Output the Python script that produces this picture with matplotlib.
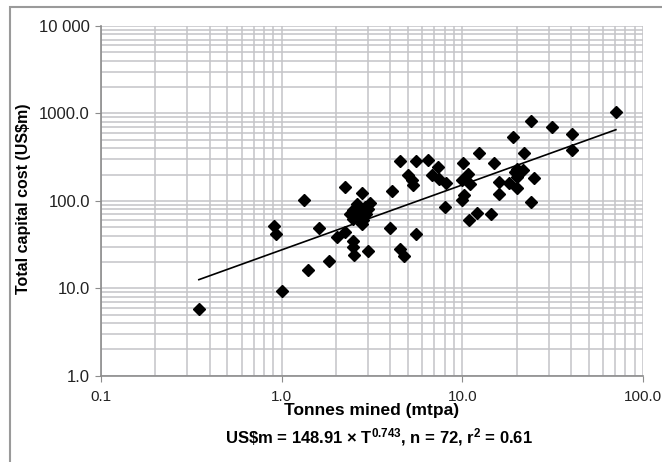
import numpy as np
import matplotlib
matplotlib.use('Agg')
import matplotlib.pyplot as plt
from matplotlib.patches import Rectangle

# 字体：窄体不可用时退回 Liberation Sans
plt.rcParams['font.family'] = ['Liberation Sans Narrow', 'Liberation Sans', 'DejaVu Sans']
plt.rcParams['mathtext.fontset'] = 'custom'
plt.rcParams['mathtext.rm'] = 'Liberation Sans:bold'
plt.rcParams['mathtext.bf'] = 'Liberation Sans:bold'
plt.rcParams['mathtext.it'] = 'Liberation Sans:bold'

# 数据：年产量 (mtpa) 与 总资本成本 (US$m)
tonnes_mined = [
    0.348, 0.912, 0.926, 1.00, 1.33, 1.40, 1.61, 1.83, 2.02, 2.23,
    2.23, 2.78, 2.49, 2.89, 3.02, 2.71, 2.83, 2.49, 2.77, 2.61,
    2.47, 2.49, 2.51, 3.02, 4.06, 3.99, 4.52, 4.75, 5.51, 4.52,
    5.51, 6.48, 7.36, 5.02, 5.24, 5.35, 6.76, 7.42, 8.08, 8.04,
    10.1, 10.8, 10.0, 11.0, 10.2, 10.0, 12.4, 12.1, 10.9, 14.4,
    15.0, 16.0, 16.0, 19.1, 21.9, 18.1, 20.0, 20.1, 20.1, 21.7,
    24.9, 23.9, 23.9, 31.2, 40.3, 40.3, 70.8, 3.08, 2.67, 2.93,
    19.6, 2.39,
]
capital_cost = [
    5.8, 51.2, 41.5, 9.3, 101.4, 16.1, 49.4, 20.4, 38.6, 44.0,
    143.8, 122.8, 77.9, 85.0, 81.5, 71.4, 59.9, 62.6, 54.9, 91.2,
    34.8, 29.7, 23.9, 26.7, 128.3, 48.9, 28.5, 23.4, 42.2, 282.5,
    282.5, 295.3, 243.0, 195.5, 171.4, 150.3, 195.5, 175.9, 161.3, 85.0,
    268.0, 204.6, 171.4, 157.1, 115.6, 101.4, 351.4, 73.3, 61.0, 70.1,
    270.2, 164.0, 120.8, 530.9, 351.4, 161.3, 233.1, 187.0, 141.5, 222.9,
    184.0, 96.9, 829.7, 695.0, 584.6, 384.0, 1051.0, 93.6, 67.9, 70.1,
    211.5, 71.6,
]

# 趋势线参数（按图上直线读取）
trend_coef = 27.5
trend_exp = 0.743

x_ticks = [0.1, 1.0, 10.0, 100.0]
x_tick_labels = ['0.1', '1.0', '10.0', '100.0']
y_ticks = [1.0, 10.0, 100.0, 1000.0, 10000.0]
y_tick_labels = ['1.0', '10.0', '100.0', '1000.0', '10 000']

grid_color = '#c4c4c8'
axis_color = '#8c8c8c'

fig = plt.figure(figsize=(6.62, 4.62), dpi=100)
ax = fig.add_axes([0.1526, 0.1868, 0.8187, 0.7569])

ax.set_xscale('log')
ax.set_yscale('log')
ax.set_xlim(0.1, 100)
ax.set_ylim(1, 10000)

ax.grid(True, which='both', color=grid_color, linewidth=1.1)
ax.set_axisbelow(True)

for side in ['top', 'right']:
    ax.spines[side].set_visible(False)
for side in ['left', 'bottom']:
    ax.spines[side].set_color(axis_color)
    ax.spines[side].set_linewidth(1.2)

ax.set_xticks(x_ticks)
ax.set_xticklabels(x_tick_labels)
ax.set_yticks(y_ticks)
ax.set_yticklabels(y_tick_labels)
ax.minorticks_on()
ax.tick_params(which='minor', length=0)
ax.tick_params(which='major', length=4, color=axis_color, labelsize=12,
               labelcolor='#222222')
ax.tick_params(axis='x', pad=6, labelsize=11)
ax.tick_params(axis='y', pad=4)

# 散点
ax.plot(tonnes_mined, capital_cost, linestyle='none', marker='D',
        markersize=6.3, color='black', zorder=3)

# 趋势线
tx = np.linspace(np.log10(min(tonnes_mined)), np.log10(max(tonnes_mined)), 50)
tx = 10 ** tx
ax.plot(tx, trend_coef * tx ** trend_exp, color='black', linewidth=1.2, zorder=4)

fig.text(24 / 662, 1 - 198.5 / 462, 'Total capital cost (US$m)', rotation=90,
         ha='center', va='center', fontsize=11.5, fontweight='bold')
fig.text(0.562, 1 - 411 / 462, 'Tonnes mined (mtpa)',
         ha='center', va='center', fontsize=12.5, fontweight='bold')
fig.text(0.573, 1 - 437 / 462,
         r'US\$m = 148.91 × T$^{0.743}$, n = 72, r$^{2}$ = 0.61',
         ha='center', va='center', fontsize=12, fontweight='bold')

# 外框
fig.add_artist(Rectangle((10 / 662, -0.1), 1.2, 1.1 - 7 / 462,
                         transform=fig.transFigure, fill=False,
                         edgecolor='#9a9a9a', linewidth=1.5))

fig.savefig('out.png', dpi=100)
